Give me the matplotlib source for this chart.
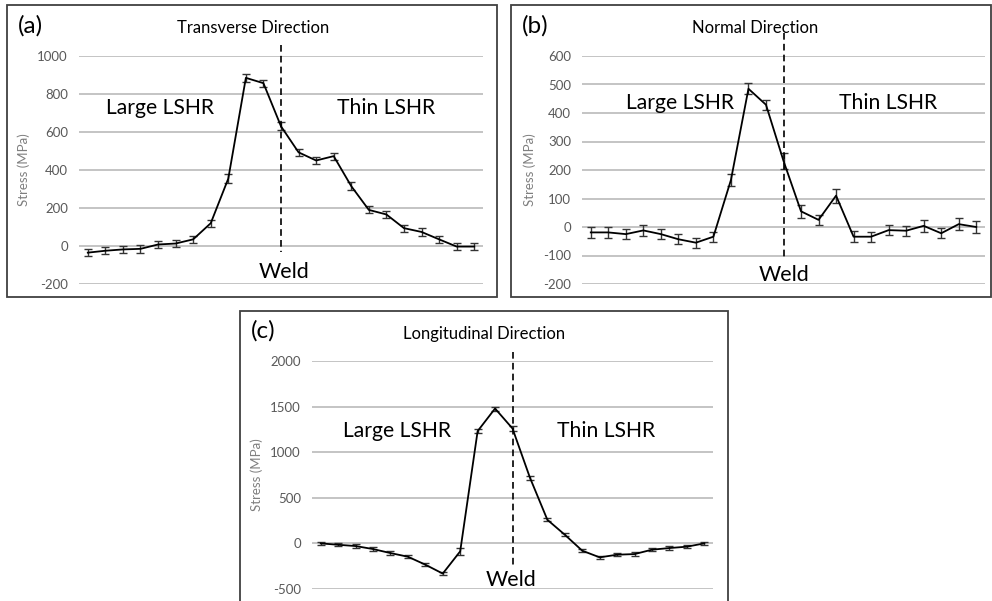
import numpy as np
import matplotlib
matplotlib.use("Agg")
import matplotlib.pyplot as plt
from matplotlib.patches import Rectangle

plt.rcParams['font.family'] = ['Lato', 'DejaVu Sans']
plt.rcParams['axes.unicode_minus'] = False

W, H = 992, 601

# positions along the specimen (category axis), weld at index 11
positions = np.arange(23)
weld_index = 11

# transverse direction
trans_stress = [-35, -25, -18, -15, 8, 13, 35, 120, 355, 885, 857, 630, 493, 450, 473, 315,
                190, 166, 94, 74, 35, -3, -3]
trans_err = [20, 18, 20, 20, 18, 20, 18, 18, 22, 20, 18, 22, 18, 18, 18, 20,
             18, 20, 18, 20, 18, 18, 18]

# normal direction
normal_stress = [-19, -19, -25, -12, -25, -43, -55, -34, 165, 485, 429, 232, 55, 25, 110, -34,
                 -34, -11, -13, 4, -22, 10, 0]
normal_err = [20, 20, 18, 20, 18, 18, 18, 18, 20, 20, 18, 28, 22, 18, 25, 20,
              18, 18, 18, 20, 18, 20, 20]

# longitudinal direction
long_stress = [0, -15, -29, -62, -106, -146, -233, -331, -87, 1231, 1479, 1260, 721, 259, 95, -80,
               -153, -124, -117, -69, -51, -36, 0]
long_err = [20, 18, 18, 18, 18, 18, 18, 20, 35, 25, 22, 25, 22, 18, 18, 18,
            20, 18, 18, 18, 18, 18, 20]

panels = [
    dict(tag="(a)", title="Transverse Direction", y=trans_stress, e=trans_err,
         ylim=(-200, 1000), step=200, ax_px=(79, 483, 56, 284), box=(7, 5, 497, 297),
         tag_px=(30, 26), title_px=(253, 28), large_px=(160, 108), thin_px=(386, 108),
         weld_px=(284, 272), line_px=(45, 252)),
    dict(tag="(b)", title="Normal Direction", y=normal_stress, e=normal_err,
         ylim=(-200, 600), step=100, ax_px=(582, 985, 56, 284), box=(511, 5, 991, 297),
         tag_px=(535, 26), title_px=(755, 28), large_px=(680, 103), thin_px=(888, 103),
         weld_px=(784, 275), line_px=(33, 260)),
    dict(tag="(c)", title="Longitudinal Direction", y=long_stress, e=long_err,
         ylim=(-500, 2000), step=500, ax_px=(312, 713, 361, 589), box=(240, 311, 728, 640),
         tag_px=(263, 331), title_px=(484, 334), large_px=(397, 431), thin_px=(606, 431),
         weld_px=(511, 580), line_px=(352, 568)),
]

fig = plt.figure(figsize=(W / 100, H / 100), dpi=100)

for p in panels:
    x0, y0, x1, y1 = p["box"]
    fig.patches.append(Rectangle((x0 / W, 1 - y1 / H), (x1 - x0) / W, (y1 - y0) / H,
                                 transform=fig.transFigure, fill=False,
                                 edgecolor="#404040", linewidth=1.3))

    l, r, t, b = p["ax_px"]
    ax = fig.add_axes([l / W, 1 - b / H, (r - l) / W, (b - t) / H])
    ax.set_xlim(-0.5, 22.5)
    ax.set_ylim(*p["ylim"])
    ax.set_yticks(np.arange(p["ylim"][0], p["ylim"][1] + 1, p["step"]))
    ax.grid(axis="y", color="#bfbfbf", linewidth=1.3)
    ax.set_axisbelow(True)
    for s in ax.spines.values():
        s.set_visible(False)
    ax.set_xticks([])
    ax.tick_params(axis="y", length=0, labelsize=9.5, labelcolor="#595959", pad=8)
    ax.set_ylabel("Stress (MPa)", fontsize=9.5, color="#7f7f7f", labelpad=5)
    ax.patch.set_alpha(0)

    ax.errorbar(positions, p["y"], yerr=p["e"], color="black", linewidth=1.3,
                ecolor="#333333", elinewidth=1.0, capsize=3, capthick=1.0, clip_on=False)

    # weld line in pixel space
    wx = ax.transData.transform((weld_index, 0))[0]
    fx = wx / fig.dpi / fig.get_figwidth()
    ly0, ly1 = p["line_px"]
    fig.add_artist(plt.Line2D([fx, fx], [1 - ly0 / H, 1 - ly1 / H], color="black",
                              linewidth=1.2, linestyle=(0, (4, 2.5)), transform=fig.transFigure))

    def ftext(px, s, size, **kw):
        fig.text(px[0] / W, 1 - px[1] / H, s, fontsize=size, ha="center", va="center", **kw)

    ftext(p["tag_px"], p["tag"], 17.5)
    ftext(p["title_px"], p["title"], 12)
    ftext(p["large_px"], "Large LSHR", 15.2)
    ftext(p["thin_px"], "Thin LSHR", 15.2)
    ftext(p["weld_px"], "Weld", 15.5)

fig.savefig("out.png", dpi=100, facecolor="white")
